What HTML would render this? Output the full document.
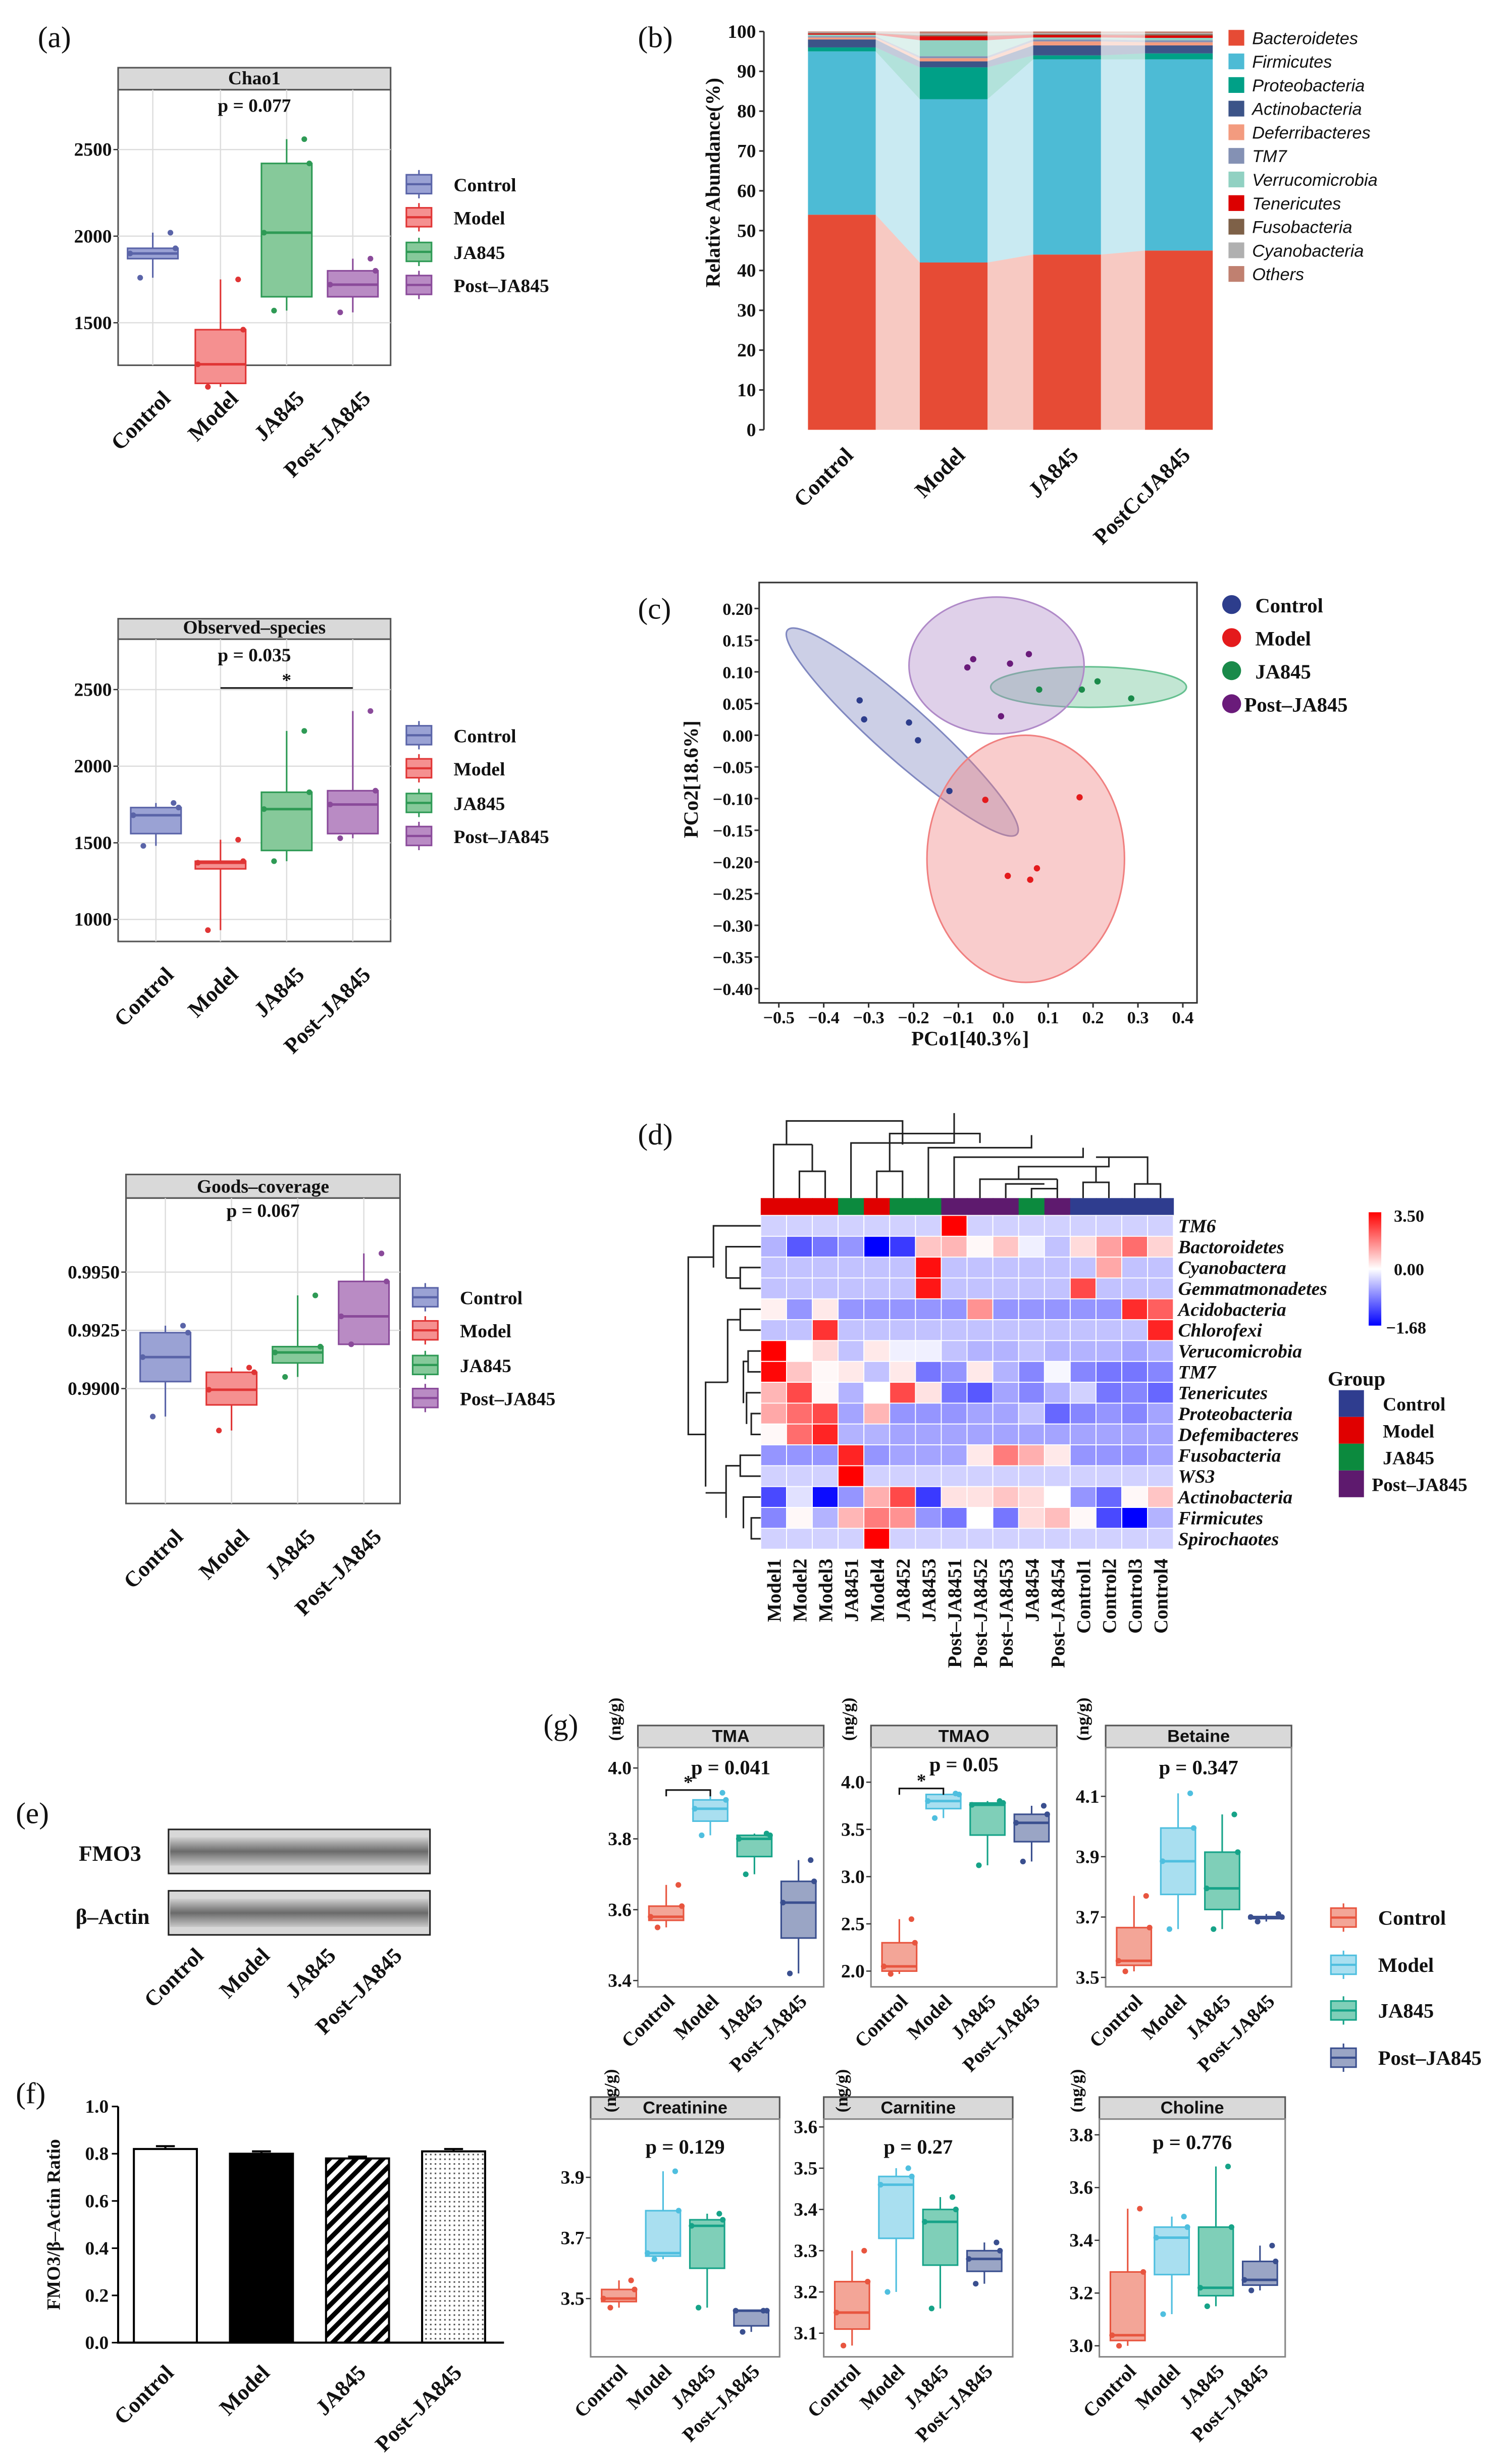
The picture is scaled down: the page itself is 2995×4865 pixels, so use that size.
<!DOCTYPE html>
<html><head><meta charset="utf-8"><style>
html,body{margin:0;padding:0;background:#fff;}
svg{display:block;}
text{font-family:"Liberation Serif",serif;font-weight:bold;fill:#111;}
.sans{font-family:"Liberation Sans",sans-serif;}
</style></head><body>
<svg id="fig" xmlns="http://www.w3.org/2000/svg" width="2995" height="4865" viewBox="0 0 960 1560" preserveAspectRatio="none"></svg>
<script>
// ---------- data ----------
const groups=['Control','Model','JA845','Post–JA845'];
// boxplot stats [min,q1,median,q3,max]
const chao1Stats=[[1760,1870,1900,1930,2020],[1130,1150,1260,1460,1750],[1570,1650,2020,2420,2560],[1560,1650,1720,1800,1870]];
const obsStats=[[1480,1560,1680,1730,1760],[930,1330,1370,1380,1520],[1380,1450,1720,1830,2230],[1530,1560,1750,1840,2360]];
const goodsStats=[[0.9888,0.9903,0.99135,0.9924,0.9927],[0.9882,0.9893,0.98995,0.9907,0.9909],[0.9905,0.9911,0.99155,0.9918,0.9940],[0.9919,0.9919,0.9931,0.9946,0.9958]];
const tmaStats=[[3.55,3.57,3.58,3.61,3.67],[3.81,3.85,3.885,3.91,3.93],[3.70,3.75,3.80,3.81,3.815],[3.42,3.52,3.62,3.68,3.74]];
const tmaoStats=[[1.97,2.0,2.05,2.30,2.55],[3.62,3.72,3.80,3.87,3.88],[3.12,3.44,3.76,3.78,3.80],[3.16,3.37,3.57,3.66,3.75]];
const betaineStats=[[3.52,3.54,3.555,3.665,3.77],[3.66,3.775,3.885,3.995,4.11],[3.66,3.725,3.795,3.915,4.04],[3.685,3.695,3.70,3.70,3.71]];
const creatStats=[[3.47,3.49,3.50,3.53,3.56],[3.63,3.64,3.65,3.79,3.92],[3.47,3.60,3.74,3.76,3.78],[3.39,3.41,3.46,3.46,3.46]];
const carnStats=[[3.07,3.11,3.15,3.225,3.30],[3.20,3.33,3.46,3.48,3.50],[3.16,3.265,3.37,3.40,3.43],[3.22,3.25,3.28,3.30,3.32]];
const cholStats=[[3.00,3.02,3.04,3.28,3.52],[3.12,3.27,3.41,3.45,3.49],[3.15,3.19,3.22,3.45,3.68],[3.21,3.23,3.25,3.32,3.38]];
// stacked abundance (%) per group, order = phyla
const phyla=['Bacteroidetes','Firmicutes','Proteobacteria','Actinobacteria','Deferribacteres','TM7','Verrucomicrobia','Tenericutes','Fusobacteria','Cyanobacteria','Others'];
const phylaColors=['#e64b35','#4dbbd5','#00a087','#3c5488','#f39b7f','#8491b4','#91d1c2','#dc0000','#7e6148','#b0b0b0','#c08070'];
const abControl=[54,41,1,2,0.5,0.3,0.4,0.3,0.1,0.2,0.2];
const abModel=[42,41,8,1.5,0.8,0.5,4,1,0.3,0.4,0.5];
const abJA845=[44,49,1,2.5,1,0.5,0.5,0.6,0.2,0.3,0.4];
const abPost=[45,48,1.5,2,0.8,0.5,0.6,0.6,0.3,0.3,0.4];
// PCoA points [pc1, pc2]
const pcControl=[[-0.32,0.055],[-0.31,0.025],[-0.21,0.02],[-0.19,-0.008],[-0.12,-0.088]];
const pcModel=[[-0.04,-0.102],[0.17,-0.098],[0.01,-0.222],[0.075,-0.21],[0.06,-0.228]];
const pcJA845=[[0.08,0.072],[0.175,0.072],[0.21,0.085],[0.285,0.058]];
const pcPost=[[-0.08,0.107],[-0.067,0.12],[0.015,0.113],[0.057,0.128],[-0.005,0.03]];
// heatmap
const hmRows=['TM6','Bactoroidetes','Cyanobactera','Gemmatmonadetes','Acidobacteria','Chlorofexi','Verucomicrobia','TM7','Tenericutes','Proteobacteria','Defemibacteres','Fusobacteria','WS3','Actinobacteria','Firmicutes','Spirochaotes'];
const hmCols=['Model1','Model2','Model3','JA8451','Model4','JA8452','JA8453','Post–JA8451','Post–JA8452','Post–JA8453','JA8454','Post–JA8454','Control1','Control2','Control3','Control4'];
const hmColGroup=[1,1,1,2,1,2,2,3,3,3,2,3,0,0,0,0];
const hmValues=[
[-.3,-.3,-.3,-.3,-.3,-.3,-.3,3.5,-.3,-.3,-.3,-.3,-.3,-.3,-.3,-.3],
[-.5,-1.1,-.9,-.7,-1.68,-1.3,.8,1,.1,.8,-.1,-.4,.5,1.3,2,.6],
[-.4,-.4,-.4,-.4,-.4,-.4,3.3,-.4,-.4,-.4,-.4,-.4,-.4,1.2,-.4,-.4],
[-.4,-.4,-.4,-.4,-.4,-.4,3.2,-.4,-.4,-.4,-.4,-.4,2.5,-.4,-.4,-.4],
[.2,-.7,.3,-.7,-.7,-.7,-.7,-.7,1.5,-.7,-.7,-.7,-.7,-.7,2.9,2.2],
[-.4,-.4,2.8,-.4,-.4,-.4,-.4,-.4,-.4,-.4,-.4,-.4,-.4,-.4,-.4,3],
[3.5,0,.5,-.4,.3,-.1,-.1,-.4,-.5,-.5,-.4,-.5,-.5,-.5,-.6,-.5],
[3.4,.8,.1,.3,-.4,.3,-.9,-.7,.3,-.5,-.8,-.05,-.8,-.9,-.9,-.8],
[1,2.5,.1,-.5,0,2.5,.4,-.9,-1.1,-.6,-.8,-.5,-.3,-.9,-.8,-1],
[1.2,2,2.5,-.6,1,-.7,-.7,-.7,-.6,-.6,-.4,-1,-.8,-.7,-.8,-.6],
[.1,2,3,-.5,-.5,-.6,-.6,-.6,-.6,-.6,-.6,-.6,-.6,-.6,-.6,-.6],
[-.7,-.7,-.7,3,-.7,-.6,-.6,-.6,.3,1.8,1.1,.3,-.7,-.7,-.7,-.6],
[-.3,-.3,-.3,3.5,-.3,-.3,-.3,-.3,-.3,-.3,-.3,-.3,-.3,-.3,-.3,-.3],
[-1.2,-.2,-1.6,-.7,1.1,2.5,-1.3,.4,.4,.8,.5,0,-.7,-1,.1,.8],
[-.8,.1,-.5,1,1.8,1.5,-.7,-.9,0,-.9,.5,.9,.1,-1.2,-1.68,-.5],
[-.3,-.3,-.3,-.3,3.5,-.3,-.3,-.3,-.3,-.3,-.3,-.3,-.3,-.3,-.3,-.3]];
// FMO3 ratio
const fmoValues=[0.82,0.80,0.78,0.81];
const fmoErr=[0.012,0.01,0.008,0.01];

// ---------- helpers ----------
const NS='http://www.w3.org/2000/svg';
const svg=document.getElementById('fig');
function el(tag,attrs,parent,txt){const e=document.createElementNS(NS,tag);for(const k in attrs)e.setAttribute(k,attrs[k]);if(txt!==undefined)e.textContent=txt;(parent||svg).appendChild(e);return e;}
function grp(name){const g=el('g',{});


return g;}
function lin(v0,p0,v1,p1){return v=>p0+(v-v0)*(p1-p0)/(v1-v0);}

const colA={stroke:['#5a64a8','#e03535','#2e9a55','#8a4a9a'],fill:['#9aa2d4','#f59090','#86c99a','#b98bc4']};
const colG={stroke:['#e8553f','#4fbfdf','#16a388','#3a4f8f'],fill:['#f3a597','#a9dff0','#7fcfb8','#9aa5c5']};

function boxPanel(o){
  const g=grp(o.name);
  const y=lin(o.v0,o.p0,o.v1,o.p1);
  const h=el('rect',{x:o.L,y:o.hT,width:o.R-o.L,height:o.T-o.hT,fill:'#d9d9d9',stroke:'#555','stroke-width':1},g);
  
  
  const ht=el('text',{x:(o.L+o.R)/2,y:o.T-3.5,'text-anchor':'middle','font-size':o.hfs||11,class:o.sansHdr?'sans':''},g,o.title);
  
  
  el('rect',{x:o.L,y:o.T,width:o.R-o.L,height:o.B-o.T,fill:'#fff',stroke:o.grid?'#555':'#888','stroke-width':1},g);
  if(o.grid){
    o.ticks.forEach(t=>el('line',{x1:o.L,x2:o.R,y1:y(t),y2:y(t),stroke:'#ddd','stroke-width':0.8},g));
    o.xs.forEach(x=>el('line',{x1:x,x2:x,y1:o.T,y2:o.B,stroke:'#ddd','stroke-width':0.8},g));
  }
  o.ticks.forEach((t,i)=>{
    el('line',{x1:o.L-3,x2:o.L,y1:y(t),y2:y(t),stroke:'#333','stroke-width':0.8},g);
    const tl=el('text',{x:o.L-4,y:y(t)+4,'text-anchor':'end','font-size':o.tfs||11},g,o.tickLabels[i]);
    
    
  });
  const xo=o.xo||[6,10];
  o.stats.forEach((s,i)=>{
    const x=o.xs[i],w=o.bw,cs=o.cols.stroke[i],cf=o.cols.fill[i];
    const b=grp('box-'+groups[i].toLowerCase().replace('–','-'));g.appendChild(b);
    el('line',{x1:x,x2:x,y1:y(s[0]),y2:y(s[4]),stroke:cs,'stroke-width':1},b);
    el('rect',{x:x-w/2,y:y(s[3]),width:w,height:Math.max(1,y(s[1])-y(s[3])),fill:cf,stroke:cs,'stroke-width':1},b);
    el('line',{x1:x-w/2,x2:x+w/2,y1:y(s[2]),y2:y(s[2]),stroke:cs,'stroke-width':1.6},b);
    [[s[0],-0.25],[s[2],-0.45],[s[4],0.35],[s[3],0.45]].forEach(([v,dx])=>el('circle',{cx:x+dx*w,cy:y(v),r:1.8,fill:cs},b));
    const ax=x+xo[0],ay=o.B+xo[1];
    const xl=el('text',{x:ax,y:ay,'text-anchor':'end','font-size':o.xfs||13,transform:`rotate(-45 ${ax} ${ay})`},g,groups[i]);
    
    
  });
  const pt=el('text',{x:(o.L+o.R)/2,y:o.pY,'text-anchor':'middle','font-size':o.pfs||12},g,o.p);
  
  
  if(o.sig){
    el('path',{d:`M${o.xs[o.sig[0]]} ${o.sig[2]+(o.sigTick?4:0)}V${o.sig[2]}H${o.xs[o.sig[1]]}V${o.sig[2]+(o.sigTick?4:0)}`,fill:'none',stroke:'#111','stroke-width':1},g);
    el('text',{x:(o.xs[o.sig[0]]+o.xs[o.sig[1]])/2,y:o.sig[2]-1,'text-anchor':'middle','font-size':12},g,'*');
  }
  if(o.unit){const uy=o.hT-4;const u=el('text',{x:o.unitX,y:uy,'text-anchor':'middle','font-size':11,transform:`rotate(-90 ${o.unitX} ${uy})`},g,'(ng/g)');
  
  }
  return g;
}
function legendBoxes(x,ys,cols,fs,name){
  const g=grp(name);
  ys.forEach((yy,i)=>{
    const e=grp('legend-entry');g.appendChild(e);
    el('line',{x1:x+8,x2:x+8,y1:yy-9,y2:yy+9,stroke:cols.stroke[i]},e);
    el('rect',{x:x,y:yy-6,width:16,height:12,fill:cols.fill[i],stroke:cols.stroke[i]},e);
    el('line',{x1:x,x2:x+16,y1:yy,y2:yy,stroke:cols.stroke[i],'stroke-width':1.4},e);
    el('text',{x:x+30,y:yy+4.5,'font-size':fs},e,groups[i]);
  });
}
function label(x,y,t){const e=el('text',{x:x,y:y,'font-size':19,style:'font-weight:normal'},svg,t);

}

// ---------- (a) ----------
label(24,30,'(a)');
const aX={grid:true,hfs:12,tfs:12,xfs:14,xo:[12,22]};
boxPanel(Object.assign({name:'chao1-boxplot',L:75,R:248,hT:43,T:57,B:232,title:'Chao1',v0:1500,p0:205,v1:2500,p1:95,ticks:[1500,2000,2500],tickLabels:['1500','2000','2500'],xs:[97,140,182,224],bw:32,stats:chao1Stats,cols:colA,p:'p = 0.077',pY:71},aX));
legendBoxes(258,[117,138,160,181],colA,12,'chao1-legend');
boxPanel(Object.assign({name:'observed-species-boxplot',L:75,R:248,hT:393,T:406,B:598,title:'Observed–species',v0:1000,p0:584,v1:2500,p1:438,ticks:[1000,1500,2000,2500],tickLabels:['1000','1500','2000','2500'],xs:[99,140,182,224],bw:32,stats:obsStats,cols:colA,p:'p = 0.035',pY:420,sig:[1,3,437]},aX));
legendBoxes(258,[467,488,510,531],colA,12,'observed-species-legend');
boxPanel(Object.assign({name:'goods-coverage-boxplot',L:80,R:254,hT:746,T:761,B:955,title:'Goods–coverage',v0:0.99,p0:882,v1:0.995,p1:808,ticks:[0.99,0.9925,0.995],tickLabels:['0.9900','0.9925','0.9950'],xs:[105,147,189,231],bw:32,stats:goodsStats,cols:colA,p:'p = 0.067',pY:773},aX));
legendBoxes(262,[824,845,867,888],colA,12,'goods-coverage-legend');

// ---------- (b) stacked ----------
label(405,30,'(b)');
(function(){
  const g=grp('stacked-bar-chart');
  const y=lin(0,273,100,20);
  const bars=[abControl,abModel,abJA845,abPost];
  const bx=[513,584,656,727],bw=43;
  for(let t=0;t<=100;t+=10){
    el('line',{x1:482,x2:485,y1:y(t),y2:y(t),stroke:'#333'},g);
    const tl=el('text',{x:480,y:y(t)+4,'text-anchor':'end','font-size':12},g,String(t));
    
    
  }
  el('line',{x1:485,x2:485,y1:20,y2:273,stroke:'#333'},g);
  for(let b=0;b<3;b++){
    let c0=0,c1=0;
    phyla.forEach((p,k)=>{
      const a=bars[b][k],n=bars[b+1][k];
      const poly=el('polygon',{points:`${bx[b]+bw},${y(c0)} ${bx[b]+bw},${y(c0+a)} ${bx[b+1]},${y(c1+n)} ${bx[b+1]},${y(c1)}`,fill:phylaColors[k],opacity:0.3},g);
      
      
      c0+=a;c1+=n;
    });
  }
  bars.forEach((vals,b)=>{
    let c=0;
    vals.forEach((v,k)=>{
      const r=el('rect',{x:bx[b],y:y(c+v),width:bw,height:y(c)-y(c+v),fill:phylaColors[k]},g);
      
      
      c+=v;
    });
    const lbl=['Control','Model','JA845','PostCcJA845'][b];
    const x=bx[b]+bw/2+8;
    el('text',{x:x,y:290,'text-anchor':'end','font-size':14,transform:`rotate(-45 ${x} 290)`},g,lbl);
  });
  const yl=el('text',{x:457,y:116,'text-anchor':'middle','font-size':13,transform:'rotate(-90 457 116)'},g,'Relative Abundance(%)');
  
  
  phyla.forEach((p,k)=>{
    const yy=24+k*15;
    const e=grp('legend-entry');g.appendChild(e);
    el('rect',{x:780,y:yy-5,width:10,height:10,fill:phylaColors[k]},e);
    el('text',{x:795,y:yy+4,'font-size':11,class:'sans',style:'font-style:italic;font-weight:normal'},e,p);
  });
})();

// ---------- (c) PCoA ----------
label(405,393,'(c)');
(function(){
  const g=grp('pcoa-plot');
  const x=lin(0,637,0.4,751),y=lin(0,467,-0.4,628);
  el('rect',{x:482,y:370,width:278,height:267,fill:'#fff',stroke:'#333'},g);
  const sx=(x(0.1)-x(0)),sy=(y(-0.1)-y(0));
  const ell=[[-0.225,0.005,0.342,0.042,41.7,'#8088c0','control'],[0.05,-0.195,0.22,0.195,0,'#f08080','model'],[0.19,0.076,0.218,0.032,0,'#66c090','ja845'],[-0.015,0.11,0.195,0.108,0,'#b08ac8','post-ja845']];
  ell.forEach(e=>{const el1=el('ellipse',{cx:x(e[0]),cy:y(e[1]),rx:e[2]*sx*10,ry:e[3]*sy*10,fill:e[5],'fill-opacity':0.4,stroke:e[5],transform:`rotate(${e[4]} ${x(e[0])} ${y(e[1])})`},g);
  
  });
  const sets=[pcControl,pcModel,pcJA845,pcPost],pc=['#2d3d8c','#e41a1c','#1a8a4a','#6a1b7a'];
  sets.forEach((s,i)=>s.forEach(p=>{const c=el('circle',{cx:x(p[0]),cy:y(p[1]),r:2,fill:pc[i]},g);
  
  }));
  const xt=[-0.5,-0.4,-0.3,-0.2,-0.1,0,0.1,0.2,0.3,0.4];
  xt.forEach(t=>{el('line',{x1:x(t),x2:x(t),y1:637,y2:640,stroke:'#333'},g);el('text',{x:x(t),y:650,'text-anchor':'middle','font-size':11},g,(t<0?'−':'')+Math.abs(t).toFixed(1));});
  for(let t=-0.4;t<=0.201;t+=0.05){const tt=Math.round(t*100)/100;el('line',{x1:479,x2:482,y1:y(tt),y2:y(tt),stroke:'#333'},g);el('text',{x:478,y:y(tt)+4,'text-anchor':'end','font-size':11},g,(tt<0?'−':'')+Math.abs(tt).toFixed(2));}
  el('text',{x:616,y:664,'text-anchor':'middle','font-size':13},g,'PCo1[40.3%]');
  el('text',{x:443,y:495,'text-anchor':'middle','font-size':13,transform:'rotate(-90 443 495)'},g,'PCo2[18.6%]');
  [384,405,426,447].forEach((yy,i)=>{const e=grp('legend-entry');g.appendChild(e);el('circle',{cx:782,cy:yy,r:6,fill:pc[i]},e);el('text',{x:i==3?790:797,y:yy+5,'font-size':13},e,groups[i]);});
})();

// ---------- (d) heatmap ----------
label(405,727,'(d)');
(function(){
  const g=grp('heatmap');
  const L=483,T=772,cw=262/16,rh=212/16;
  const gc=['#2f3d8f','#e00000','#0c8a3e','#5e1a6e'];
  function col(v){if(v>=0){const t=Math.min(1,v/3.5);return `rgb(255,${Math.round(255*(1-t))},${Math.round(255*(1-t))})`;}const t=Math.min(1,-v/1.68);return `rgb(${Math.round(255*(1-t))},${Math.round(255*(1-t))},255)`;}
  hmColGroup.forEach((gi,j)=>el('rect',{x:L+j*cw,y:761,width:cw+0.3,height:11,fill:gc[gi]},g));
  hmValues.forEach((row,i)=>row.forEach((v,j)=>{const r=el('rect',{x:L+j*cw,y:T+i*rh,width:cw,height:rh,fill:col(v),stroke:'#fff','stroke-width':0.6},g);
  
  }));
  hmRows.forEach((r,i)=>el('text',{x:748,y:T+i*rh+rh-2.5,'font-size':12,style:'font-style:italic'},g,r));
  hmCols.forEach((c,j)=>{const xx=L+j*cw+cw/2+4.5;el('text',{x:xx,y:990,'text-anchor':'end','font-size':12.5,transform:`rotate(-90 ${xx} 990)`},g,c);});
  const cx=j=>L+j*cw+cw/2;
  const den=`M${cx(0)} 761V727H${cx(2)-cw*0.5}M${cx(1)} 761V744H${cx(2)}V761M${cx(1.5)} 744V727M${cx(0.5)} 727V712H${cx(3)+cw*2}V727`+
  `M${cx(3)} 761V726H${cx(7)}V707M${cx(4)} 761V744H${cx(5)}V761M${cx(4.5)} 744V720H${cx(8)}V726M${cx(6)} 761V729H${cx(10)}V721`+
  `M${cx(7)} 761V735H${cx(12)}V729M${cx(8)} 761V749H${cx(11)}M${cx(9)} 761V752H${cx(10.5)}M${cx(10)} 761V755H${cx(11)}V752M${cx(11)} 761V749`+
  `M${cx(9.5)} 749V741H${cx(13)}V735M${cx(12)} 761V751H${cx(13)}V761M${cx(12.5)} 751V741M${cx(14)} 761V752H${cx(15)}V761M${cx(14.5)} 752V735H${cx(12.5)}`;
  el('path',{d:den,fill:'none',stroke:'#222','stroke-width':1},g);
  const ry=i=>T+i*rh+rh/2;
  const rden=`M483 ${ry(0)}H453V${ry(2)}M483 ${ry(1)}H461V${ry(2.5)}M483 ${ry(2)}H470V${ry(3)}H483M470 ${ry(2.5)}H461`+
  `M483 ${ry(4)}H470V${ry(5)}H483M470 ${ry(4.5)}H462V${ry(7.5)}M483 ${ry(6)}H475V${ry(7)}H483M475 ${ry(6.5)}H472V${ry(8.5)}M483 ${ry(8)}H474V${ry(9.5)}M483 ${ry(9)}H477V${ry(10)}H483`+
  `M462 ${ry(7.5)}H448V${ry(12.5)}M448 ${ry(10)}H437V${ry(1.5)}H453M483 ${ry(11)}H470V${ry(12)}H483M470 ${ry(11.5)}H461V${ry(14)}M483 ${ry(13)}H472V${ry(14.5)}M483 ${ry(14)}H477V${ry(15)}H483M461 ${ry(12.8)}H448`;
  el('path',{d:rden,fill:'none',stroke:'#222','stroke-width':1},g);
  const lg=el('linearGradient',{id:'hmg',x1:0,y1:0,x2:0,y2:1},svg);
  el('stop',{offset:'0','stop-color':'#ff0000'},lg);el('stop',{offset:'0.5','stop-color':'#ffffff'},lg);el('stop',{offset:'1','stop-color':'#0000ff'},lg);
  el('rect',{x:869,y:770,width:8,height:72,fill:'url(#hmg)'},g);
  el('text',{x:885,y:776,'font-size':11},g,'3.50');
  el('text',{x:885,y:810,'font-size':11},g,'0.00');
  el('text',{x:880,y:847,'font-size':11},g,'−1.68');
  el('text',{x:843,y:880,'font-size':13},g,'Group');
  [0,1,2,3].forEach(i=>{el('rect',{x:850,y:883+i*17,width:16,height:17,fill:gc[i]},g);el('text',{x:i==3?871:878,y:896+i*17,'font-size':12},g,groups[i]);});
})();

// ---------- (e) western blot ----------
label(10,1158,'(e)');
(function(){
  const g=grp('western-blot');
  const gr=el('linearGradient',{id:'blot',x1:0,y1:0,x2:0,y2:1},svg);
  el('stop',{offset:'0','stop-color':'#d0d0d0'},gr);el('stop',{offset:'0.5','stop-color':'#6a6a6a'},gr);el('stop',{offset:'1','stop-color':'#c8c8c8'},gr);
  [1162,1201].forEach(yy=>{el('rect',{x:107,y:yy,width:166,height:28,fill:'#d8d8d8',stroke:'#222'},g);el('rect',{x:108,y:yy+5,width:164,height:18,fill:'url(#blot)'},g);});
  el('text',{x:50,y:1182,'font-size':14},g,'FMO3');
  el('text',{x:48,y:1222,'font-size':14},g,'β–Actin');
  [130,172,214,256].forEach((x,i)=>el('text',{x:x,y:1243,'text-anchor':'end','font-size':14,transform:`rotate(-45 ${x} 1243)`},g,groups[i]));
})();

// ---------- (f) bar chart ----------
label(10,1336,'(f)');
(function(){
  const g=grp('fmo3-bar-chart');
  const y=lin(0,1488,1,1338);
  const pat=el('pattern',{id:'hatch',width:6,height:6,patternUnits:'userSpaceOnUse',patternTransform:'rotate(45)'},svg);
  el('rect',{width:6,height:6,fill:'#fff'},pat);el('rect',{width:3,height:6,fill:'#000'},pat);
  const dot=el('pattern',{id:'dots',width:3,height:3,patternUnits:'userSpaceOnUse'},svg);
  el('rect',{width:3,height:3,fill:'#fff'},dot);el('rect',{width:1,height:1,fill:'#555'},dot);
  const fills=['#fff','#000','url(#hatch)','url(#dots)'];
  const bx=[85,146,207,268];
  fmoValues.forEach((v,i)=>{
    const r=el('rect',{x:bx[i],y:y(v),width:40,height:y(0)-y(v),fill:fills[i],stroke:'#000','stroke-width':1.3},g);
    
    
    el('path',{d:`M${bx[i]+20} ${y(v)}V${y(v+fmoErr[i])}M${bx[i]+14} ${y(v+fmoErr[i])}H${bx[i]+26}`,stroke:'#000','stroke-width':1.3},g);
    const x=bx[i]+26;
    el('text',{x:x,y:1508,'text-anchor':'end','font-size':14,transform:`rotate(-45 ${x} 1508)`},g,groups[i]);
  });
  el('path',{d:'M75 1338V1488H320',fill:'none',stroke:'#000','stroke-width':1.3},g);
  [0,0.2,0.4,0.6,0.8,1.0].forEach(t=>{el('line',{x1:71,x2:75,y1:y(t),y2:y(t),stroke:'#000'},g);el('text',{x:69,y:y(t)+4,'text-anchor':'end','font-size':12},g,t.toFixed(1));});
  el('text',{x:38,y:1413,'text-anchor':'middle','font-size':12,transform:'rotate(-90 38 1413)'},g,'FMO3/β–Actin Ratio');
})();

// ---------- (g) metabolites ----------
label(345,1102,'(g)');
const gcommon={grid:false,bw:22,cols:colG,hfs:11,sansHdr:true,tfs:12,xfs:12.5,pfs:13,unit:true};
boxPanel(Object.assign({name:'tma-boxplot',L:405,R:523,hT:1096,T:1110,B:1262,title:'TMA',v0:3.4,p0:1258,v1:4.0,p1:1123,ticks:[3.4,3.6,3.8,4.0],tickLabels:['3.4','3.6','3.8','4.0'],xs:[423,451,479,507],stats:tmaStats,p:'p = 0.041',pY:1127,sig:[0,1,1137],sigTick:true,unitX:394},gcommon));
boxPanel(Object.assign({name:'tmao-boxplot',L:553,R:671,hT:1096,T:1110,B:1262,title:'TMAO',v0:2.0,p0:1252,v1:4.0,p1:1132,ticks:[2.0,2.5,3.0,3.5,4.0],tickLabels:['2.0','2.5','3.0','3.5','4.0'],xs:[571,599,627,655],stats:tmaoStats,p:'p = 0.05',pY:1125,sig:[0,1,1136],sigTick:true,unitX:542},gcommon));
boxPanel(Object.assign({name:'betaine-boxplot',L:702,R:820,hT:1096,T:1110,B:1262,title:'Betaine',v0:3.5,p0:1256,v1:4.1,p1:1141,ticks:[3.5,3.7,3.9,4.1],tickLabels:['3.5','3.7','3.9','4.1'],xs:[720,748,776,804],stats:betaineStats,p:'p = 0.347',pY:1127,unitX:691},gcommon));
boxPanel(Object.assign({name:'creatinine-boxplot',L:375,R:495,hT:1332,T:1346,B:1497,title:'Creatinine',v0:3.5,p0:1460,v1:3.9,p1:1383,ticks:[3.5,3.7,3.9],tickLabels:['3.5','3.7','3.9'],xs:[393,421,449,477],stats:creatStats,p:'p = 0.129',pY:1368,unitX:391},gcommon));
boxPanel(Object.assign({name:'carnitine-boxplot',L:523,R:643,hT:1332,T:1346,B:1497,title:'Carnitine',v0:3.1,p0:1482,v1:3.6,p1:1351,ticks:[3.1,3.2,3.3,3.4,3.5,3.6],tickLabels:['3.1','3.2','3.3','3.4','3.5','3.6'],xs:[541,569,597,625],stats:carnStats,p:'p = 0.27',pY:1368,unitX:538},gcommon));
boxPanel(Object.assign({name:'choline-boxplot',L:698,R:816,hT:1332,T:1346,B:1497,title:'Choline',v0:3.0,p0:1490,v1:3.8,p1:1356,ticks:[3.0,3.2,3.4,3.6,3.8],tickLabels:['3.0','3.2','3.4','3.6','3.8'],xs:[716,744,772,800],stats:cholStats,p:'p = 0.776',pY:1365,unitX:687},gcommon));
legendBoxes(845,[1218,1248,1277,1307],colG,13,'metabolite-legend');
</script>
</body></html>
